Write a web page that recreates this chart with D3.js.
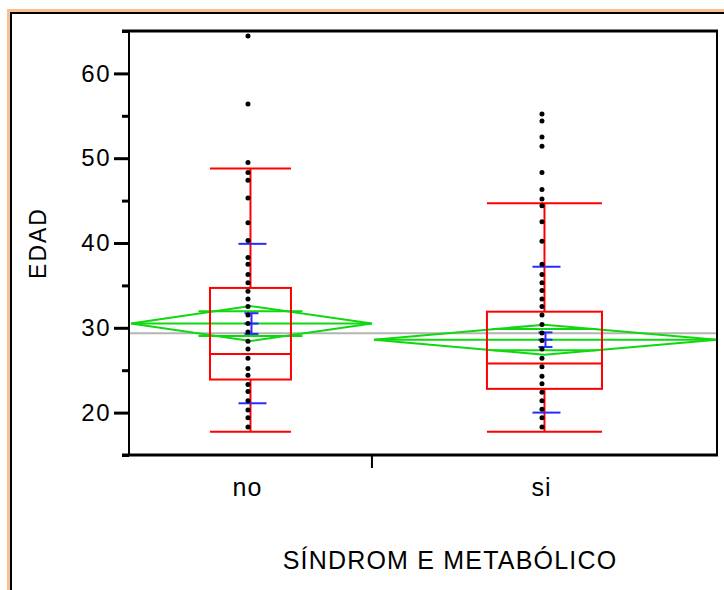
<!DOCTYPE html>
<html>
<head>
<meta charset="utf-8">
<script src="https://cdn.jsdelivr.net/npm/d3@7"></script>
<style>
  body { margin: 0; background: #fff; }
  text { font-family: "Liberation Sans", Arial, sans-serif; fill: #000; }
</style>
</head>
<body>
<svg id="chart" width="724" height="590"></svg>
<script>
// groups and their sizes (x bands are proportional to n)
const groups = ["no", "si"];
const groupN = [69, 98];

// EDAD values per group
const edadNo = [64.4, 56.4, 49.5, 48.3, 47.4, 45.3, 42.4, 40.3, 38.3, 37.5, 36.3, 35.3, 34.3, 33.4,
  32.5, 31.5, 30.5, 29.5, 28.4, 27.5, 26.4, 25.2, 24.4, 23.3, 22.5, 21.4, 20.3, 19.4, 18.3];
const edadSi = [55.2, 54.4, 52.5, 51.4, 48.3, 46.3, 45.2, 44.4, 42.5, 40.2, 37.5, 36.3, 35.3, 34.4,
  33.4, 32.5, 31.5, 30.4, 29.4, 28.5, 27.5, 26.4, 25.4, 24.3, 23.4, 22.4, 21.4, 20.4, 19.4, 18.3];

// quantile boxes
const q1 = [23.9, 22.8];
const medians = [26.9, 25.8];
const q3 = [34.7, 31.9];
const whiskerLo = [17.75, 17.75];
const whiskerHi = [48.8, 44.7];

// means, std dev, std error, 95% CI half-width
const means = [30.5, 28.6];
const sds = [9.4, 8.6];
const ses = [1.22, 0.86];
const ciHalf = [2.06, 1.77];
const grandMean = 29.35;

const yTicks = [20, 30, 40, 50, 60];
const yMinorTicks = [15, 25, 35, 45, 55, 65];

const svg = d3.select("#chart");

const margin = { left: 129, right: 717, top: 31, bottom: 455 };
const red = "#ff0000";
const green = "#10d810";
const blue = "#2a2aff";

// outer frame
svg.append("rect")
  .attr("x", 8.5).attr("y", 10.5)
  .attr("width", 800).attr("height", 700)
  .attr("fill", "#fff")
  .attr("stroke", "#f8c194")
  .attr("stroke-width", 3);
svg.append("rect")
  .attr("x", 11).attr("y", 13)
  .attr("width", 800).attr("height", 700)
  .attr("fill", "none")
  .attr("stroke", "#000")
  .attr("stroke-width", 2);

const yScale = d3.scaleLinear().domain([15, 65]).range([margin.bottom, margin.top]);

const totalN = d3.sum(groupN);
const xScale = d3.scaleLinear().domain([0, totalN]).range([margin.left, margin.right]);
const cum = d3.cumsum([0].concat(groupN));
const bands = groups.map((g, i) => {
  const x0 = xScale(cum[i]);
  const x1 = xScale(cum[i + 1]);
  return { g, i, x0, x1, cx: (x0 + x1) / 2, w: x1 - x0 };
});

// grand mean line
svg.append("line")
  .attr("x1", margin.left).attr("x2", margin.right)
  .attr("y1", yScale(grandMean)).attr("y2", yScale(grandMean))
  .attr("stroke", "#b4b4b4")
  .attr("stroke-width", 2);

// means diamonds
const diamonds = svg.append("g").attr("fill", "none").attr("stroke", green).attr("stroke-width", 2);
bands.forEach((b) => {
  const m = means[b.i];
  const c = ciHalf[b.i];
  diamonds.append("path")
    .attr("d", `M${b.x0 + 2},${yScale(m)} L${b.cx},${yScale(m + c)} L${b.x1},${yScale(m)} L${b.cx},${yScale(m - c)} Z`);
  diamonds.append("line")
    .attr("x1", b.x0 + 2).attr("x2", b.x1)
    .attr("y1", yScale(m)).attr("y2", yScale(m));
  // overlap marks
  const off = c / Math.SQRT2;
  const hw = 52;
  [m + off, m - off].forEach((v) => {
    diamonds.append("line")
      .attr("x1", b.cx - hw).attr("x2", b.cx + hw)
      .attr("y1", yScale(v)).attr("y2", yScale(v));
  });
});

// quantile boxes
const boxes = svg.append("g").attr("fill", "none").attr("stroke", red).attr("stroke-width", 2);
bands.forEach((b) => {
  const bw = b.w / 3;
  boxes.append("rect")
    .attr("x", b.cx - bw / 2).attr("width", bw)
    .attr("y", yScale(q3[b.i]))
    .attr("height", yScale(q1[b.i]) - yScale(q3[b.i]));
  boxes.append("line")
    .attr("x1", b.cx - bw / 2).attr("x2", b.cx + bw / 2)
    .attr("y1", yScale(medians[b.i])).attr("y2", yScale(medians[b.i]));
  boxes.append("line")
    .attr("x1", b.cx).attr("x2", b.cx)
    .attr("y1", yScale(q3[b.i])).attr("y2", yScale(whiskerHi[b.i]));
  boxes.append("line")
    .attr("x1", b.cx).attr("x2", b.cx)
    .attr("y1", yScale(q1[b.i])).attr("y2", yScale(whiskerLo[b.i]));
  [whiskerHi[b.i], whiskerLo[b.i]].forEach((v) => {
    boxes.append("line")
      .attr("x1", b.cx - bw / 2).attr("x2", b.cx + bw / 2)
      .attr("y1", yScale(v)).attr("y2", yScale(v));
  });
});

// std dev lines and mean error bars
const blues = svg.append("g").attr("stroke", blue).attr("stroke-width", 2);
bands.forEach((b) => {
  const m = means[b.i];
  const cx = b.cx + 2;
  [m + sds[b.i], m - sds[b.i]].forEach((v) => {
    blues.append("line")
      .attr("x1", cx - 14).attr("x2", cx + 14)
      .attr("y1", yScale(v)).attr("y2", yScale(v));
  });
  blues.append("line")
    .attr("x1", cx - 1).attr("x2", cx - 1)
    .attr("y1", yScale(m + ses[b.i])).attr("y2", yScale(m - ses[b.i]));
  [m + ses[b.i], m, m - ses[b.i]].forEach((v) => {
    blues.append("line")
      .attr("x1", cx - 8).attr("x2", cx + 6)
      .attr("y1", yScale(v)).attr("y2", yScale(v));
  });
});

// data points
const dataByGroup = [edadNo, edadSi];
bands.forEach((b) => {
  svg.append("g")
    .selectAll("circle")
    .data(dataByGroup[b.i])
    .join("circle")
    .attr("cx", b.cx - 2.5)
    .attr("cy", (d) => yScale(d))
    .attr("r", 2.5)
    .attr("fill", "#000");
});

// frame lines of the plot
svg.append("line")
  .attr("x1", margin.left).attr("x2", margin.left)
  .attr("y1", margin.top).attr("y2", margin.bottom)
  .attr("stroke", "#000").attr("stroke-width", 2);
svg.append("line")
  .attr("x1", margin.right).attr("x2", margin.right)
  .attr("y1", margin.top).attr("y2", margin.bottom)
  .attr("stroke", "#000").attr("stroke-width", 2);
[margin.top, margin.bottom].forEach((y) => {
  svg.append("line")
    .attr("x1", margin.left - 7).attr("x2", margin.right + 1)
    .attr("y1", y).attr("y2", y)
    .attr("stroke", "#000").attr("stroke-width", 3);
});

// y axis
const yAxis = svg.append("g")
  .attr("transform", `translate(${margin.left},0)`)
  .call(d3.axisLeft(yScale).tickValues(yTicks).tickSize(15).tickPadding(3));
yAxis.select(".domain").remove();
yAxis.selectAll(".tick line").attr("stroke", "#000").attr("stroke-width", 3);
yAxis.selectAll(".tick text")
  .attr("font-size", 24)
  .attr("font-family", "Liberation Sans, Arial, sans-serif")
  .attr("letter-spacing", 1.5);

const yMinor = svg.append("g")
  .attr("transform", `translate(${margin.left},0)`)
  .call(d3.axisLeft(yScale).tickValues(yMinorTicks).tickSize(7).tickFormat(""));
yMinor.select(".domain").remove();
yMinor.selectAll(".tick line").attr("stroke", "#000").attr("stroke-width", 3);

// x axis: divider tick and category labels
svg.append("line")
  .attr("x1", xScale(cum[1])).attr("x2", xScale(cum[1]))
  .attr("y1", margin.bottom).attr("y2", margin.bottom + 13)
  .attr("stroke", "#000").attr("stroke-width", 2);

svg.append("g")
  .selectAll("text")
  .data(bands)
  .join("text")
  .attr("x", (d) => d.cx - 3)
  .attr("y", 496)
  .attr("text-anchor", "middle")
  .attr("font-size", 25)
  .attr("letter-spacing", 1)
  .text((d) => d.g);

svg.append("text")
  .attr("x", 450)
  .attr("y", 569)
  .attr("text-anchor", "middle")
  .attr("font-size", 25)
  .attr("letter-spacing", 1.2)
  .text("SÍNDROM E METABÓLICO");

svg.append("text")
  .attr("transform", `translate(46,${(margin.top + margin.bottom) / 2}) rotate(-90)`)
  .attr("text-anchor", "middle")
  .attr("font-size", 23)
  .attr("letter-spacing", 2)
  .text("EDAD");
</script>
</body>
</html>
